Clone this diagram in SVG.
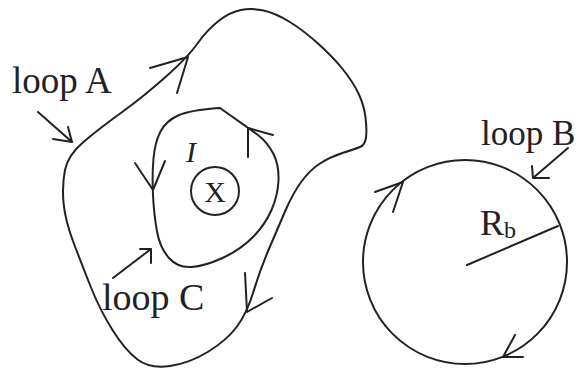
<svg xmlns="http://www.w3.org/2000/svg" width="578" height="370" viewBox="0 0 578 370">
<style>
.ln{fill:none;stroke:#222;stroke-width:2;stroke-linecap:round;stroke-linejoin:round}
.t{font-family:"Liberation Serif","Times New Roman",serif;fill:#222}
</style>
<rect width="578" height="370" fill="#fff"/>
<g id="loopA">
<path class="ln" d="M165.5,77 Q188,57 197.5,43.5 Q207,30 218.5,21 Q230,12 241,10 Q252,8 263.5,10.5 Q275,13 289,21.5 Q303,30 318,43.5 Q333,57 343,69.5 Q353,82 358.5,93.5 Q364,105 365.5,117.5 Q367,130 366,137.5 Q365,145 360,147 Q355,149 342.5,153 Q330,157 320,163.5 Q310,170 301.5,181.5 Q293,193 285,211.5 Q277,230 268.5,250 Q260,270 253.5,291.5 Q247,313 237,326.5 Q227,340 208.5,351.5 Q190,363 170,366 Q150,369 137.5,359.5 Q125,350 112.5,330 Q100,310 91,287.5 Q82,265 73.5,242.5 Q65,220 63.5,202.5 Q62,185 65,170 Q68,155 84,141.5 Q100,128 121.5,112.5 Q143,97 165.5,77 Z"/>
<path class="ln" d="M150,68 L188,57 L177,93"/>
<path class="ln" d="M245,273 L247,312 L272,298"/>
</g>
<g id="loopC">
<path class="ln" d="M220,108 Q190,110 178,115.5 Q166,121 160.5,131.5 Q155,142 153.5,158.5 Q152,175 153,195 Q154,215 157,231.5 Q160,248 169,258 Q178,268 191.5,267 Q205,266 222.5,258 Q240,250 252.5,237.5 Q265,225 271.5,210 Q278,195 278.5,180 Q279,165 273.5,154 Q268,143 258,135 L220,108 Z"/>
<path class="ln" d="M135,163 L153,190 L165,161"/>
<path class="ln" d="M248,157 L248,128 L273,135"/>
</g>
<g id="current">
<circle class="ln" cx="215" cy="191" r="24"/>
<text class="t" x="215" y="202" font-size="30" text-anchor="middle">X</text>
<text class="t" x="186" y="162" font-size="30" font-style="italic">I</text>
</g>
<g id="loopB">
<circle class="ln" cx="465" cy="262" r="102"/>
<path class="ln" d="M375,192 L403,182 L393,212"/>
<path class="ln" d="M515,335 L503,357 L523,357"/>
<line class="ln" x1="467" y1="265" x2="558" y2="226"/>
<text class="t" x="480" y="235" font-size="36">R<tspan font-size="24" dy="3">b</tspan></text>
</g>
<g id="labels">
<text class="t" x="12" y="93" font-size="37">loop A</text>
<text class="t" x="102" y="310" font-size="38">loop C</text>
<text class="t" x="481" y="145" font-size="35">loop B</text>
</g>
<g id="connectors">
<path class="ln" d="M38,112 L72,142 M53,139 L72,142 L68,127"/>
<path class="ln" d="M113,278 L151,249 M140,249 L151,249 L151,263"/>
<path class="ln" d="M568,148 L533,178 M549,178 L533,178 L532,166"/>
</g>
</svg>
